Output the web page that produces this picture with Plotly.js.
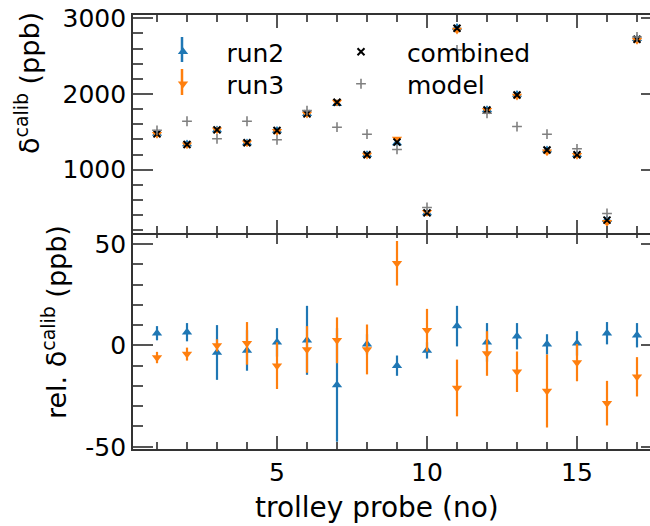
<!DOCTYPE html>
<html>
<head>
<meta charset="utf-8">
<script src="https://cdn.plot.ly/plotly-3.0.1.min.js"></script>
<style>
html, body { margin: 0; padding: 0; overflow: hidden; background: #fff; }
#chart { width: 661px; height: 526px; }
</style>
</head>
<body>
<div id="chart"></div>
<script>
// ---- data ----
const probes = [1,2,3,4,5,6,7,8,9,10,11,12,13,14,15,16,17];
const combined = [1473,1333,1526,1355,1517,1737,1890,1197,1364,429,2868,1789,1987,1259,1197,333,2724];
const model    = [1520,1640,1408,1640,1395,1780,1561,1469,1267,500,2583,1745,1570,1469,1276,421,2754];
const run2Abs  = [1479,1340,1523,1353,1519,1740,1871,1198,1354,427,2878,1791,1992,1260,1198,339,2729];
const run3Abs  = [1467,1329,1526,1356,1507,1735,1893,1195,1405,437,2847,1785,1974,1237,1189,305,2709];
const run2Rel  = [6,6.5,-3.5,-2.5,1.5,2.5,-19.5,0.5,-10,-2.5,9.5,1.5,4.5,0.5,1,6,5];
const run2Err  = [3.5,4.5,13.5,10,7,17,28,5,5,4,10,9.5,6.5,5,6,5.5,6];
const run3Rel  = [-6,-4.3,0,1,-10,-2,2.5,-2,40.5,7.5,-21,-4,-13,-22.5,-8.5,-28.5,-15.5];
const run3Err  = [2.8,3.2,3,10.5,11.5,11.5,11.3,12.3,11,10.5,14,11,10,18,9.2,11,9.7];
const seriesNames = ['run2', 'run3', 'combined', 'model'];
const xTickVals = [5,10,15];
const yTopTickVals = [1000,2000,3000];
const yBotTickVals = [-50,0,50];
const yBotTickText = ['-50','0','50'];

const FONT = 'DejaVu Sans, sans-serif';
const BLUE = '#1f77b4', ORANGE = '#ff7f0e';
const PADL = '\u00a0\u00a0\u2009\u200a';   // gap between legend symbol and text
const PADR = '\u00a0\u00a0\u2009\u2009';

function errStyle(arr, color) {
  return {type:'data', array: arr, visible: true, color: color, thickness: 2.2, width: 0};
}

const traces = [
  {x: probes, y: run2Abs, name: PADL + seriesNames[0], type: 'scatter', mode: 'markers',
   xaxis: 'x2', yaxis: 'y2', legend: 'legend',
   marker: {symbol: 'triangle-up', size: 9, color: BLUE},
   error_y: errStyle(run2Err, BLUE)},
  {x: probes, y: run3Abs, name: PADL + seriesNames[1], type: 'scatter', mode: 'markers',
   xaxis: 'x2', yaxis: 'y2', legend: 'legend2',
   marker: {symbol: 'triangle-down', size: 9, color: ORANGE},
   error_y: errStyle(run3Err, ORANGE)},
  {x: probes, y: combined, name: PADR + seriesNames[2], type: 'scatter', mode: 'markers',
   xaxis: 'x2', yaxis: 'y2', legend: 'legend3',
   marker: {symbol: 'x-thin-open', size: 7, color: '#000', line: {width: 2, color: '#000'}}},
  {x: probes, y: model, name: PADR + seriesNames[3], type: 'scatter', mode: 'markers',
   xaxis: 'x2', yaxis: 'y2', legend: 'legend4',
   marker: {symbol: 'cross-thin-open', size: 7, color: '#808080', line: {width: 1.6, color: '#808080'}}},
  {x: probes, y: run2Rel, name: seriesNames[0], type: 'scatter', mode: 'markers', showlegend: false,
   xaxis: 'x', yaxis: 'y',
   marker: {symbol: 'triangle-up', size: 9, color: BLUE},
   error_y: errStyle(run2Err, BLUE)},
  {x: probes, y: run3Rel, name: seriesNames[1], type: 'scatter', mode: 'markers', showlegend: false,
   xaxis: 'x', yaxis: 'y',
   marker: {symbol: 'triangle-down', size: 9, color: ORANGE},
   error_y: errStyle(run3Err, ORANGE)}
];

const common = {
  showline: true, linecolor: '#333', linewidth: 1.6, mirror: 'ticks',
  ticks: 'inside', tickcolor: '#555', tickwidth: 1.5,
  showgrid: false, zeroline: false,
  tickfont: {family: FONT, size: 25, color: '#000'}
};

// pixel helpers for paper placement (plot area: x 133..661, y 15..449)
const px = v => (v - 133) / 528;
const py = v => (449 - v) / 434;

function legendAt(xPix, yTopPix) {
  return {x: px(xPix), y: py(yTopPix), xanchor: 'left', yanchor: 'top',
          bgcolor: 'rgba(0,0,0,0)', font: {family: FONT, size: 25, color: '#000'},
          itemwidth: 30, tracegroupgap: 0};
}

const layout = {
  width: 661, height: 526,
  margin: {l: 133, r: 0, t: 15, b: 77},
  paper_bgcolor: '#fff', plot_bgcolor: '#fff',
  font: {family: FONT, color: '#000'},
  xaxis: Object.assign({}, common, {
    domain: [0, 1], anchor: 'y', range: [0.2, 17.8],
    tickmode: 'array', tickvals: xTickVals, ticklen: 13,
    minor: {dtick: 1, tick0: 0, ticks: 'inside', ticklen: 7, tickcolor: '#555', tickwidth: 1.5}
  }),
  xaxis2: Object.assign({}, common, {
    domain: [0, 1], anchor: 'y2', range: [0.2, 17.8], matches: 'x',
    tickmode: 'array', tickvals: xTickVals, ticklen: 13, showticklabels: false,
    minor: {dtick: 1, tick0: 0, ticks: 'inside', ticklen: 7, tickcolor: '#555', tickwidth: 1.5}
  }),
  yaxis: Object.assign({}, common, {
    domain: [0, 0.5018], anchor: 'x', range: [-51.1, 56.3],
    tickmode: 'array', tickvals: yBotTickVals, ticktext: yBotTickText, ticklen: 20,
    minor: {dtick: 10, tick0: 0, ticks: 'inside', ticklen: 10, tickcolor: '#555', tickwidth: 1.5}
  }),
  yaxis2: Object.assign({}, common, {
    domain: [0.4982, 1], anchor: 'x2', range: [166, 3044],
    tickmode: 'array', tickvals: yTopTickVals, ticklen: 20,
    minor: {dtick: 200, tick0: 0, ticks: 'inside', ticklen: 10, tickcolor: '#555', tickwidth: 1.5}
  }),
  legend:  legendAt(163, 29),
  legend2: legendAt(163, 61),
  legend3: legendAt(341, 29),
  legend4: legendAt(341, 61),
  shapes: [
    // vertical error-bar glyphs next to the run2 / run3 legend symbols
    {type: 'line', xref: 'paper', yref: 'paper', x0: px(182), x1: px(182), y0: py(37), y1: py(62),
     line: {color: BLUE, width: 2.5}},
    {type: 'line', xref: 'paper', yref: 'paper', x0: px(182), x1: px(182), y0: py(69), y1: py(95),
     line: {color: ORANGE, width: 2.5}}
  ],
  annotations: [
    {text: 'δ<sup>calib</sup> (ppb)', xref: 'paper', yref: 'paper',
     x: px(27), y: py(83), textangle: -90, showarrow: false,
     xanchor: 'center', yanchor: 'middle', font: {family: FONT, size: 27, color: '#000'}},
    {text: 'rel. δ<sup>calib</sup> (ppb)', xref: 'paper', yref: 'paper',
     x: px(54), y: py(322), textangle: -90, showarrow: false,
     xanchor: 'center', yanchor: 'middle', font: {family: FONT, size: 27, color: '#000'}},
    {text: 'trolley probe (no)', xref: 'paper', yref: 'paper',
     x: px(377), y: py(508), showarrow: false,
     xanchor: 'center', yanchor: 'middle', font: {family: FONT, size: 28, color: '#000'}}
  ]
};

Plotly.newPlot('chart', traces, layout, {displayModeBar: false, responsive: false});
</script>
</body>
</html>
